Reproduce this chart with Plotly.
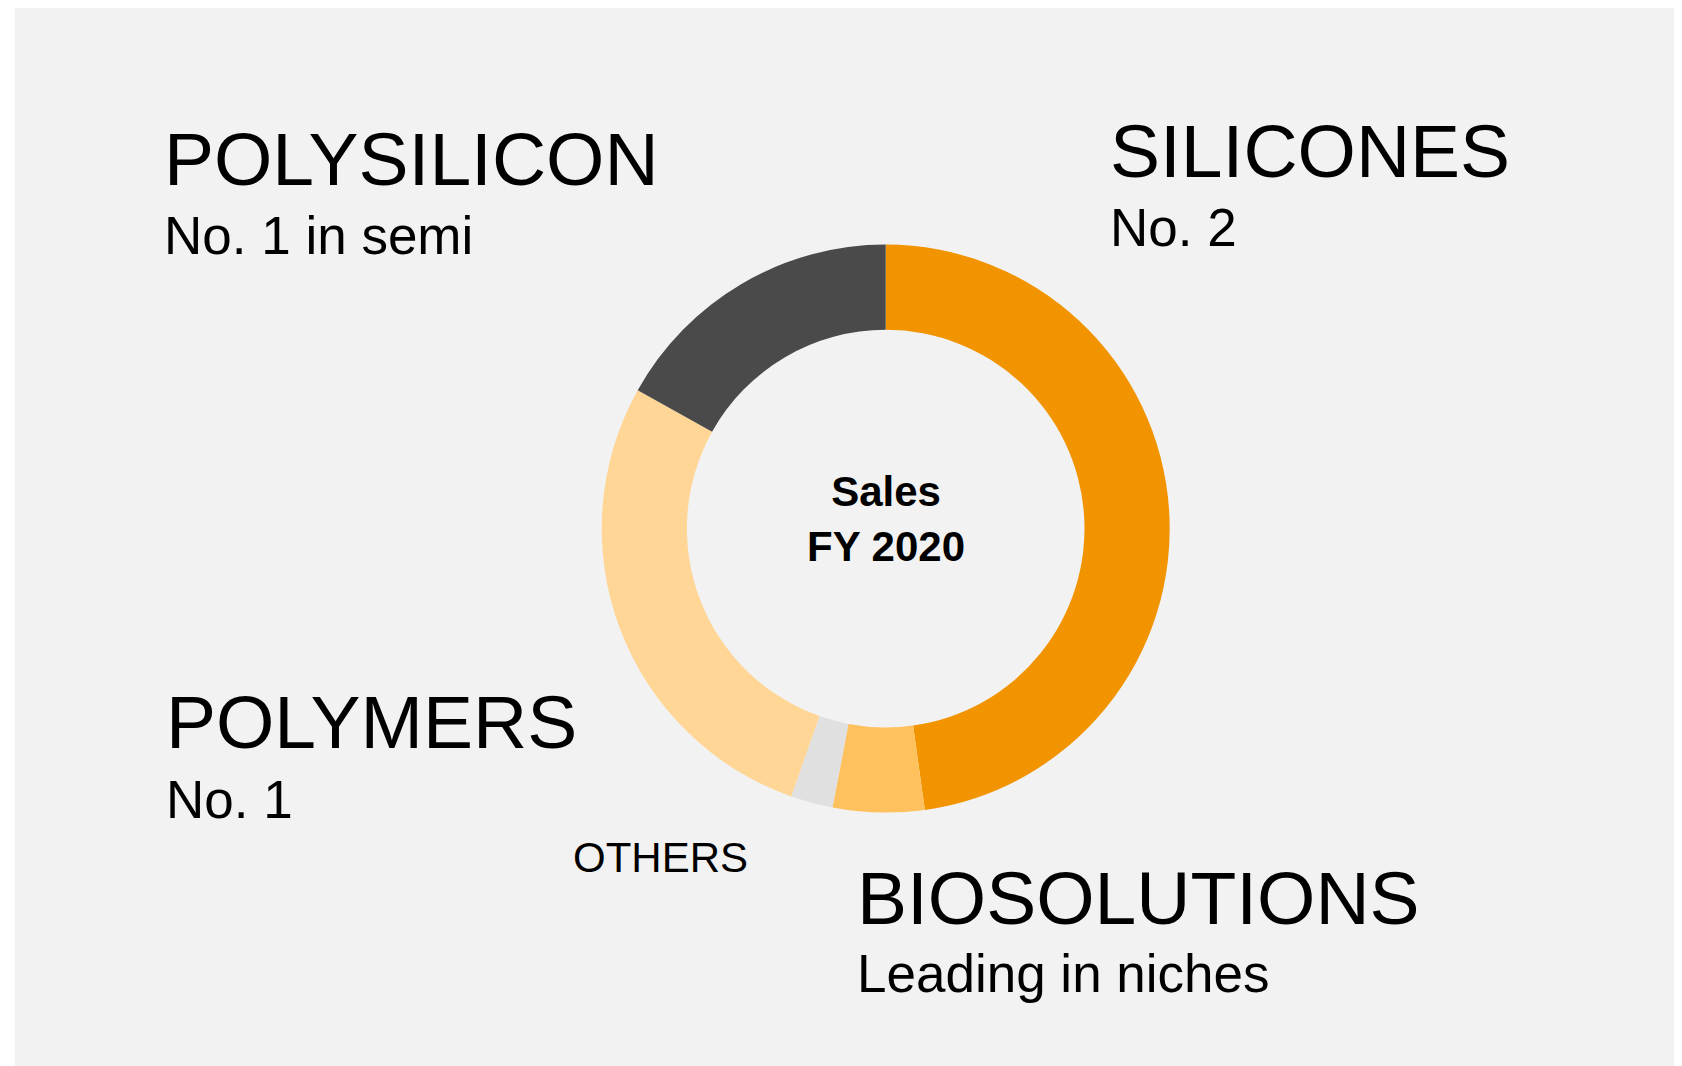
import plotly.graph_objects as go

W, H = 1682, 1066
OFF = 8  # browser body margin offset

segments = ["SILICONES", "BIOSOLUTIONS", "OTHERS", "POLYMERS", "POLYSILICON"]
shares = [47.8, 5.2, 2.4, 27.7, 16.9]
colors = ["#F29400", "#FFC15E", "#E0E0E0", "#FFD695", "#4A4A4A"]

center_lines = ["Sales", "FY 2020"]

labels_big = ["POLYSILICON", "SILICONES", "POLYMERS", "BIOSOLUTIONS"]
labels_sub = ["No. 1 in semi", "No. 2", "No. 1", "Leading in niches"]
other_label = "OTHERS"

FONT = "Liberation Sans, Arial, sans-serif"

# donut geometry (pixels, on screen)
cx, cy, R = 885.7 - OFF, 528.6 - OFF, 284.0

fig = go.Figure(go.Pie(
    labels=segments,
    values=shares,
    marker=dict(colors=colors, line=dict(width=0)),
    hole=0.7,
    sort=False,
    direction="clockwise",
    rotation=0,
    textinfo="none",
    hoverinfo="label+percent",
    showlegend=False,
    domain=dict(x=[(cx - R) / W, (cx + R) / W],
                y=[(H - cy - R) / H, (H - cy + R) / H]),
))

XS = 4  # side-bearing correction

def px(x):
    return (x - OFF - XS) / W

def py(y):
    return 1 - (y - OFF) / H

annotations = []
big_pos = [(166, 159.3), (1112.4, 150.7), (168.4, 721.9), (859.2, 897.9)]
sub_pos = [(166, 235.3), (1112.4, 227.7), (168.4, 799.5), (859.2, 973.3)]
for t, (x, y) in zip(labels_big, big_pos):
    annotations.append(dict(text=t, x=px(x), y=py(y), xref="paper", yref="paper",
                            xanchor="left", yanchor="middle", showarrow=False,
                            font=dict(family=FONT, size=75, color="#000000")))
for t, (x, y) in zip(labels_sub, sub_pos):
    annotations.append(dict(text=t, x=px(x), y=py(y), xref="paper", yref="paper",
                            xanchor="left", yanchor="middle", showarrow=False,
                            font=dict(family=FONT, size=53, color="#000000")))
annotations.append(dict(text=other_label, x=px(575), y=py(857.6), xref="paper", yref="paper",
                        xanchor="left", yanchor="middle", showarrow=False,
                        font=dict(family=FONT, size=42, color="#000000")))
annotations.append(dict(text="<b>" + "<br>".join(center_lines) + "</b>",
                        x=(886 - OFF) / W, y=py(519.5), xref="paper", yref="paper",
                        xanchor="center", yanchor="middle", showarrow=False, align="center",
                        font=dict(family=FONT, size=42, color="#000000")))

fig.update_layout(
    width=W, height=H,
    margin=dict(l=0, r=0, t=0, b=0),
    paper_bgcolor="#FFFFFF",
    plot_bgcolor="#F2F2F2",
    annotations=annotations,
    shapes=[dict(type="rect", xref="paper", yref="paper",
                 x0=(15 - OFF) / W, x1=1.0, y0=0.0, y1=1.0,
                 fillcolor="#F2F2F2", line=dict(width=0), layer="below")],
)

fig.write_html("out.html")
